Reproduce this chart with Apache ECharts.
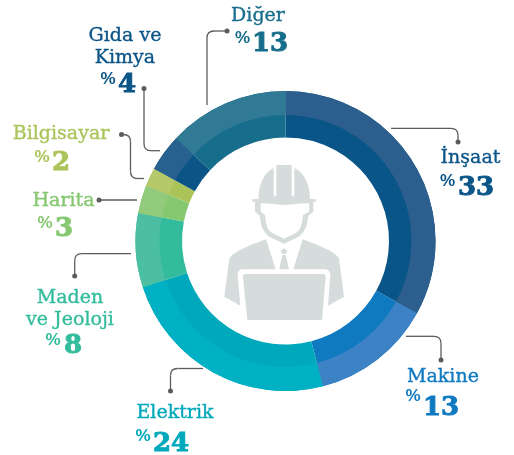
<!DOCTYPE html>
<html><head><meta charset="utf-8">
<script src="https://cdn.jsdelivr.net/npm/echarts@6/dist/echarts.min.js"></script>
<style>html,body{margin:0;padding:0;background:#fff}#c{width:514px;height:455px}</style>
</head><body><div id="c"></div>
<script>
const categories = ['İnşaat','Makine','Elektrik','Maden ve Jeoloji','Harita','Bilgisayar','Gıda ve Kimya','Diğer'];
const values = [33,13,24,8,3,2,4,13];
const labelLines = [['İnşaat'],['Makine'],['Elektrik'],['Maden','ve Jeoloji'],['Harita'],['Bilgisayar'],['Gıda ve','Kimya'],['Diğer']];
const outerColors = ['#2c5f8d','#3d82c4','#00b0c3','#4cbfa2','#93cb7d','#b5c96b','#27618f','#317a96'];
const innerColors = ['#0a5588','#0f7ac0','#00a8bb','#33bc9c','#85c870','#abc45a','#0b5486','#176d8c'];
const textColors  = ['#0a5588','#0f7ac0','#00a8bb','#33bc9c','#85c870','#abc45a','#0b5486','#176d8c'];

// label placement: name centre x, first-line y, % x, % y, number left x, number y
const labelPos = [
 {nx:470.5,ny:158,px:447.5,py:181,vx:458,vy:188},
 {nx:443,ny:377,px:413,py:396,vx:423,vy:408},
 {nx:175,ny:413,px:143,py:436,vx:153,vy:444},
 {nx:70,ny:298,px:53,py:340,vx:64,vy:346},
 {nx:63.5,ny:201,px:45,py:223,vx:55,vy:229},
 {nx:61,ny:134,px:42,py:157,vx:52,vy:163},
 {nx:125,ny:36,px:108,py:79,vx:118,vy:85},
 {nx:258,ny:16,px:242.5,py:38,vx:252,vy:44}
];
// leader lines: dot first, then corner, then end on the ring
const leaders = [
 [[458,142],[458,128.3],[391,128.3]],
 [[441,360],[441,336.3],[406,336.3]],
 [[170.5,391],[170.5,368.5],[203,368.5]],
 [[74.7,276],[74.7,253.7],[131,253.7]],
 [[99,200],[137,200]],
 [[121.5,134.5],[130.5,134.5],[130.5,178.5],[144,178.5]],
 [[144,88.5],[144,150.7],[160,150.7]],
 [[227,31],[207,31],[207,105]]
];
const LINE = '#5c5c5c';
const serif = '"DejaVu Serif"';
const CX = 285.5, CY = 241, R0 = 103.5, R1 = 126, R2 = 150;
const g = [];
function leader(pts){
  const r = 7; let cur = pts[0];
  for(let i=1;i<pts.length;i++){
    const p = pts[i], next = pts[i+1];
    const dx = Math.sign(p[0]-cur[0]), dy = Math.sign(p[1]-cur[1]);
    const end = next ? [p[0]-dx*r,p[1]-dy*r] : p;
    g.push({type:'line',silent:true,shape:{x1:cur[0],y1:cur[1],x2:end[0],y2:end[1]},style:{stroke:LINE,lineWidth:1.3}});
    if(next){
      const ndx=Math.sign(next[0]-p[0]), ndy=Math.sign(next[1]-p[1]);
      const st=[p[0]+ndx*r,p[1]+ndy*r];
      g.push({type:'bezierCurve',silent:true,shape:{x1:end[0],y1:end[1],x2:st[0],y2:st[1],cpx1:p[0],cpy1:p[1]},style:{stroke:LINE,lineWidth:1.3,fill:'none'}});
      cur=st;
    }
  }
  g.push({type:'circle',silent:true,shape:{cx:pts[0][0],cy:pts[0][1],r:2.5},style:{fill:LINE}});
}
leaders.forEach(leader);
labelLines.forEach((lines,i)=>{
  const p = labelPos[i], c = textColors[i];
  lines.forEach((t,k)=>g.push({type:'text',silent:true,style:{text:t,x:p.nx,y:p.ny+k*22.5,fill:c,stroke:c,lineWidth:0.35,font:'19px '+serif,textAlign:'center',textVerticalAlign:'middle'}}));
  g.push({type:'text',silent:true,style:{text:'%',x:p.px,y:p.py,fill:c,font:'bold 17px "Liberation Sans"',textAlign:'center',textVerticalAlign:'middle'}});
  g.push({type:'text',silent:true,style:{text:String(values[i]),x:p.vx,y:p.vy,fill:c,stroke:c,lineWidth:0.9,font:'bold 26px '+serif,textAlign:'left',textVerticalAlign:'middle'}});
});

// faint separators across the outer band, following the share boundaries
const total = values.reduce((a,b)=>a+b,0);
let acc = 0;
values.forEach(v=>{
  const a = acc/total*2*Math.PI; acc += v;
  const s = Math.sin(a), c = Math.cos(a);
  g.push({type:'line',silent:true,shape:{x1:CX+R1*s,y1:CY-R1*c,x2:CX+R2*s,y2:CY-R2*c},style:{stroke:'rgba(255,255,255,0.4)',lineWidth:0.8}});
});

// centre icon, drawn in a 3x coordinate system anchored at (210,150)
const GREY='#d6dcdc';
let iconId = 0;
function icon(d,fill){
  const name = 'iconPart'+(iconId++);
  echarts.graphic.registerShape(name, echarts.graphic.extendPath(d,{}));
  g.push({type:name,silent:true,x:210,y:150,scaleX:1/3,scaleY:1/3,shape:{},style:{fill:fill||GREY}});
}
icon('M135,150 L135,185 L149,197 C152,225 158,245 178,260 L222,281 L266,260 C286,245 292,225 295,197 L310,185 L310,150 Z');
icon('M152,160 L152,185 L165,195 C168,225 172,238 185,248 L222,266 L259,248 C272,238 276,225 279,195 L298,185 L298,160 Z','#fff');
icon('M146,146 C146,95 170,62 191,55 L191,139 L199,139 L199,45 L245,45 L245,139 L253,139 L253,55 C276,62 300,95 300,146 L318,148 L318,155 L300,156 C275,160 250,164 222,165 C195,164 170,160 146,156 L127,155 L127,148 Z');
icon('M168,268 L197,358 L95,358 C86,360 82,368 83,378 L91,467 L43,440 L58,325 C70,305 120,285 168,268 Z');
icon('M278,268 L250,358 L347,358 C356,360 362,368 361,378 L354,467 L402,440 L387,325 C375,305 325,285 278,268 Z');
icon('M222,295 L232,303 L227,312 L217,312 L212,303 Z');
icon('M217,315 L227,315 L237,358 L208,358 Z');
icon('M107,372 L338,372 C345,372 348,376 347,382 L336,510 L112,510 L99,382 C98,376 101,372 107,372 Z');

const chart = echarts.init(document.getElementById('c'),null,{renderer:'canvas'});
const mk = (colors,radius)=>({
  type:'pie',center:[CX,CY],radius:radius,startAngle:90,clockwise:true,silent:true,
  label:{show:false},labelLine:{show:false},animation:false,
  itemStyle:{borderWidth:0},
  emphasis:{disabled:true},
  data:categories.map((n,i)=>({name:n,value:values[i],itemStyle:{color:colors[i]}}))
});
chart.setOption({
  animation:false,
  backgroundColor:'#fff',
  series:[mk(innerColors,[R0,R2]),mk(outerColors,[R1,R2])],
  graphic:{elements:g}
});
</script></body></html>
